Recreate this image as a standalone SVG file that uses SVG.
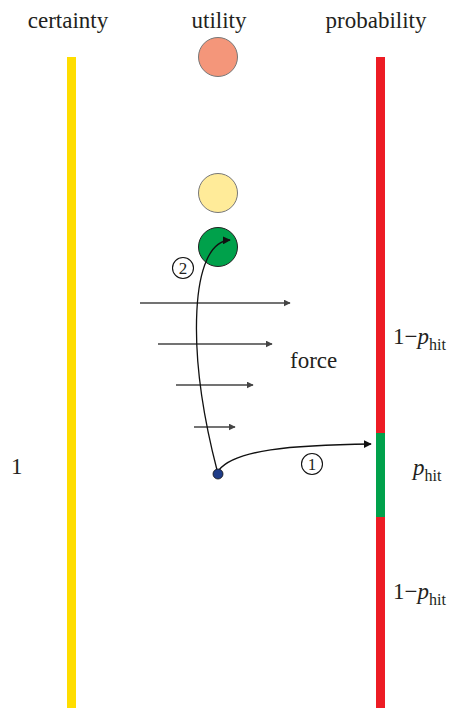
<svg xmlns="http://www.w3.org/2000/svg" width="456" height="709" viewBox="0 0 456 709">
<style>
text{font-family:"Liberation Serif","Times New Roman",serif;fill:#231f20}
.lbl{font-size:23px}
.num{font-size:17px}
.sub{font-size:16px}
.force{stroke:#444;stroke-width:1.5;fill:none}
.conn{stroke:#111;stroke-width:1.3;fill:none}
.ring{fill:none;stroke:#111;stroke-width:1.1}
</style>
<defs>
<marker id="ah" viewBox="0 0 10 10" refX="9" refY="5" markerWidth="7" markerHeight="7" markerUnits="userSpaceOnUse" orient="auto"><path d="M0,0 L10,5 L0,10 z" fill="#444"/></marker>
<marker id="ak" viewBox="0 0 10 10" refX="9" refY="5" markerWidth="8" markerHeight="8" markerUnits="userSpaceOnUse" orient="auto"><path d="M0,0 L10,5 L0,10 z" fill="#111"/></marker>
</defs>
<g id="headers">
<text class="lbl" x="68" y="28" text-anchor="middle">certainty</text>
<text class="lbl" x="219" y="28" text-anchor="middle">utility</text>
<text class="lbl" x="376" y="28" text-anchor="middle">probability</text>
</g>
<g id="certainty-bar"><rect x="67" y="57" width="9" height="651" fill="#ffdd00"/></g>
<g id="probability-bar">
<rect x="376" y="57" width="9" height="651" fill="#ed1c24"/>
<rect x="376" y="433" width="9" height="84" fill="#00a14b"/>
</g>
<g id="circle-red"><circle cx="218" cy="57" r="19.5" fill="#f4967a" stroke="#777" stroke-width="1"/></g>
<g id="circle-yellow"><circle cx="218" cy="193" r="19.5" fill="#ffeb99" stroke="#777" stroke-width="1"/></g>
<g id="circle-green"><circle cx="218" cy="247" r="19.5" fill="#00a14b" stroke="#222" stroke-width="1"/></g>
<g id="forces">
<line class="force" x1="140" y1="303" x2="290" y2="303" marker-end="url(#ah)"/>
<line class="force" x1="158" y1="344" x2="272" y2="344" marker-end="url(#ah)"/>
<line class="force" x1="176" y1="385" x2="253" y2="385" marker-end="url(#ah)"/>
<line class="force" x1="194" y1="427" x2="235" y2="427" marker-end="url(#ah)"/>
<text class="lbl" x="290" y="368">force</text>
</g>
<g id="connectors">
<path class="conn" d="M219,470 C235,450 290,445 371,444" marker-end="url(#ak)"/>
<path class="conn" d="M217,470 C186,350 190,242 230,240" marker-end="url(#ak)"/>
</g>
<g id="dot"><circle cx="218" cy="474" r="5" fill="#1f3c88" stroke="#111" stroke-width="0.8"/></g>
<g id="marker-1">
<circle class="ring" cx="312" cy="464" r="10.5"/>
<text class="num" x="312" y="470" text-anchor="middle">1</text>
</g>
<g id="marker-2">
<circle class="ring" cx="183" cy="268" r="10.5"/>
<text class="num" x="183" y="274" text-anchor="middle">2</text>
</g>
<g id="labels">
<text class="lbl" x="11" y="474">1</text>
<text class="lbl" x="393" y="344">1−<tspan font-style="italic">p</tspan><tspan class="sub" dy="6">hit</tspan></text>
<text class="lbl" x="413" y="475"><tspan font-style="italic">p</tspan><tspan class="sub" dy="6">hit</tspan></text>
<text class="lbl" x="393" y="599">1−<tspan font-style="italic">p</tspan><tspan class="sub" dy="6">hit</tspan></text>
</g>
</svg>
